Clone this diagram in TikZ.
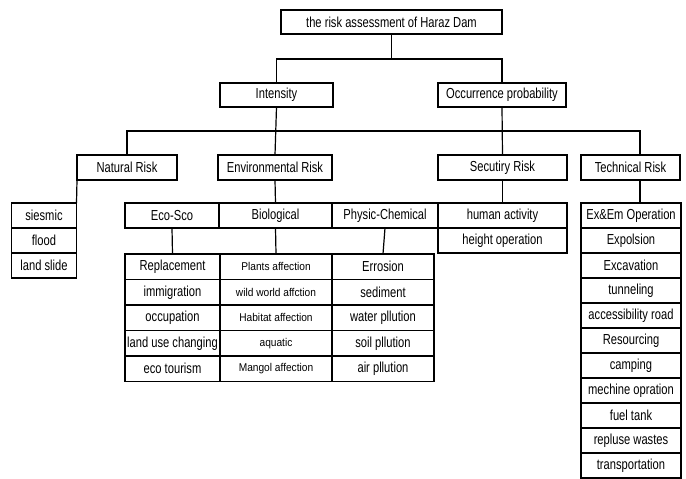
\documentclass[tikz,border=0pt]{standalone}
\usepackage{fontspec}
\setmainfont[FakeStretch=0.77]{Liberation Sans}
\newfontfamily\smallf[FakeStretch=0.9]{Liberation Sans}
\begin{document}
\begin{tikzpicture}[x=1pt,y=-1pt,line width=1.2pt,
  box/.style={draw,inner sep=0pt,outer sep=0pt,minimum height=24pt,font=\fontsize{14.5}{15}\selectfont},
  cell/.style={draw,inner sep=0pt,outer sep=0pt,minimum height=25pt,font=\fontsize{14.5}{15}\selectfont},
  scell/.style={cell,font=\smallf\fontsize{11.3}{12}\selectfont},
  bcell/.style={cell,minimum height=25.5pt},
  sbcell/.style={scell,minimum height=25.5pt}]
\useasboundingbox (0,0) rectangle (686,479);
% level 0/1
\node[box,minimum width=221pt] (title) at (391.5,22) {the risk assessment of Haraz Dam};
\node[box,minimum width=113pt] (intensity) at (276.5,95) {Intensity};
\node[box,minimum width=128pt] (occ) at (502,95) {Occurrence probability};
% level 2
\node[box,minimum width=100pt,minimum height=25pt] (natural) at (127,167.5) {Natural Risk};
\node[box,minimum width=114pt,minimum height=25pt] (env) at (275,167.5) {Environmental Risk};
\node[box,minimum width=129pt,minimum height=25pt] (sec) at (502.5,167.5) {Secutiry Risk};
\node[box,minimum width=99pt,minimum height=25pt] (tech) at (630.5,167.5) {Technical Risk};
% natural column
\node[cell,minimum width=65pt] (siesmic) at (44,215.5) {siesmic};
\node[cell,minimum width=65pt] (flood) at (44,240.5) {flood};
\node[cell,minimum width=65pt] (landslide) at (44,265.5) {land slide};
% environmental row
\node[cell,minimum width=94pt] (eco) at (172,215.5) {Eco-Sco};
\node[cell,minimum width=113pt] (bio) at (275.5,215.5) {Biological};
\node[cell,minimum width=106pt] (phys) at (385,215.5) {Physic-Chemical};
% security column
\node[cell,minimum width=129pt] (human) at (502.5,215.5) {human activity};
\node[cell,minimum width=129pt] (height) at (502.5,240.5) {height operation};
% technical column
\foreach \t [count=\i] in {Ex\&Em Operation,Expolsion,Excavation,tunneling,accessibility road,Resourcing,camping,mechine opration,fuel tank,repluse wastes,transportation}{
  \node[cell,minimum width=100pt] (t\i) at (631,203+12.5+25*\i-25) {\t};
}
% bottom table
\foreach \t [count=\i] in {Replacement,immigration,occupation,land use changing,eco tourism}{
  \node[bcell,minimum width=95pt] (a\i) at (172.5,254+12.75+25.5*\i-25.5) {\t};
}
\foreach \t [count=\i] in {Plants affection,wild world affction,Habitat affection,aquatic,Mangol affection}{
  \node[sbcell,minimum width=112pt] (b\i) at (276,254+12.75+25.5*\i-25.5) {\t};
}
\foreach \t [count=\i] in {Errosion,sediment,water pllution,soil pllution,air pllution}{
  \node[bcell,minimum width=102pt] (c\i) at (383,254+12.75+25.5*\i-25.5) {\t};
}
% connectors
\draw (title.south) -- (title.south |- 0,59);
\draw (intensity.north) -- ++(0,-24) -| (occ.north);
\draw (intensity.south) -- (env.north);
\draw (natural.north) -- ++(0,-24) -| ([xshift=9.5pt]tech.north);
\draw (occ.south) -- (sec.north);
\draw (natural.south west) -- (siesmic.north east);
\draw (env.south) -- (bio.north);
\draw (sec.south) -- (human.north);
\draw ([xshift=9.5pt]tech.south) -- ([xshift=9pt]t1.north);
\draw (eco.south) -- (a1.north);
\draw (bio.south) -- (b1.north);
\draw (phys.south) -- (c1.north);
\end{tikzpicture}
\end{document}
